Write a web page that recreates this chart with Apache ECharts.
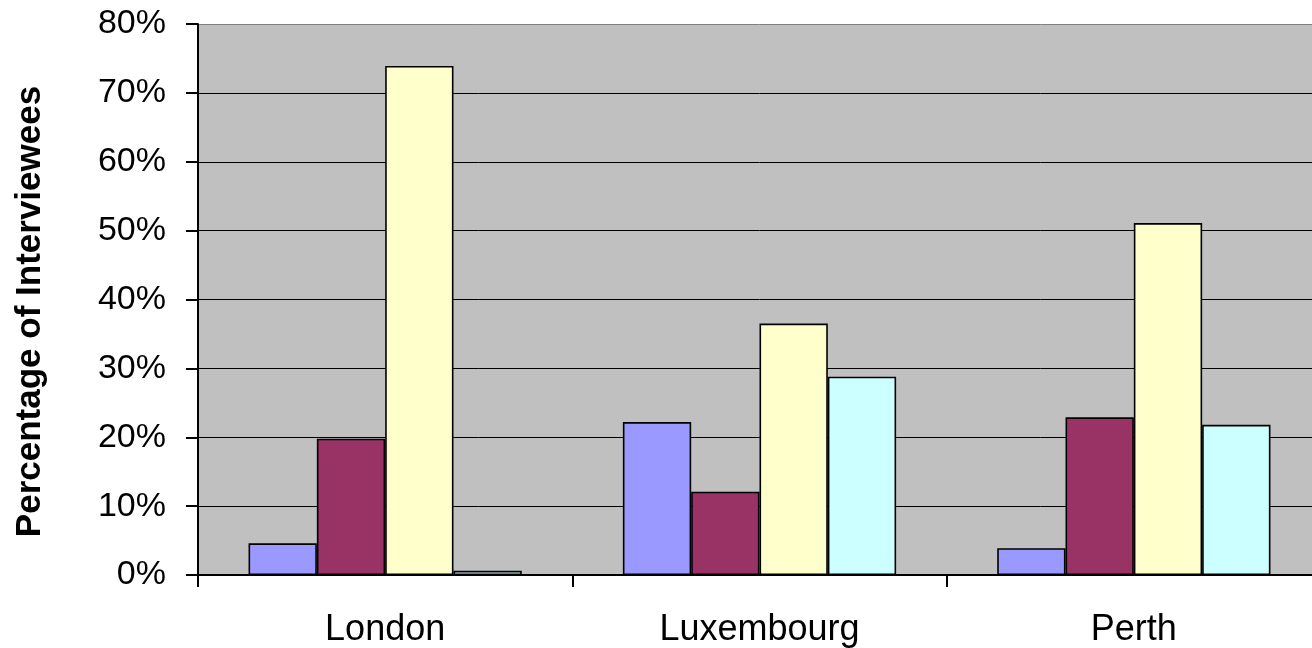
<!DOCTYPE html>
<html>
<head>
<meta charset="utf-8">
<script src="https://cdn.jsdelivr.net/npm/echarts@6/dist/echarts.min.js"></script>
<style>html,body{margin:0;padding:0;background:#fff;overflow:hidden;width:1312px;height:648px}#c{width:1321px;height:648px}</style>
</head>
<body>
<div id="c"></div>
<script>
const categories = ['London', 'Luxembourg', 'Perth'];
const series1 = [4.6, 22.2, 3.9];
const series2 = [19.8, 12.1, 22.9];
const series3 = [73.9, 36.5, 51.1];
const series4 = [0.6, 28.8, 21.8];
const yTicks = [0, 10, 20, 30, 40, 50, 60, 70, 80];
const colors = ['#9999FF', '#993366', '#FFFFCC', '#CCFFFF'];
const font = 'Arial, "Liberation Sans", sans-serif';

const chart = echarts.init(document.getElementById('c'));
const mk = (name, data, i) => ({
  name, type: 'bar', data,
  barGap: '0%', barCategoryGap: '27%',
  itemStyle: { color: colors[i], borderColor: '#000', borderWidth: 1.6 },
  animation: false
});
const splitColors = yTicks.map((t, i) => i === yTicks.length - 1 ? '#808080' : '#000');
chart.setOption({
  animation: false,
  grid: { left: 198, right: 0, top: 24, bottom: 70, show: true, backgroundColor: '#C0C0C0', borderWidth: 0 },
  xAxis: {
    type: 'category', data: categories,
    axisLine: { lineStyle: { color: '#000', width: 2 } },
    axisTick: { show: true, length: 12, lineStyle: { color: '#000', width: 2 } },
    axisLabel: { color: '#000', fontSize: 36, fontFamily: font, margin: 37 }
  },
  yAxis: {
    type: 'value', min: yTicks[0], max: yTicks[yTicks.length - 1], interval: 10,
    name: 'Percentage of Interviewees', nameLocation: 'middle', nameGap: 150, nameRotate: 90,
    nameTextStyle: { color: '#000', fontSize: 35, fontWeight: 'bold', fontFamily: font, padding: [0, 24, 0, 0] },
    axisLine: { show: true, lineStyle: { color: '#000', width: 2 } },
    axisTick: { show: true, length: 12, lineStyle: { color: '#000', width: 2 } },
    splitLine: { show: true, lineStyle: { color: splitColors, width: 1 } },
    axisLabel: { color: '#000', fontSize: 34, fontFamily: font, margin: 32, formatter: '{value}%' }
  },
  series: [
    mk('Series 1', series1, 0),
    mk('Series 2', series2, 1),
    mk('Series 3', series3, 2),
    mk('Series 4', series4, 3)
  ]
});
</script>
</body>
</html>
